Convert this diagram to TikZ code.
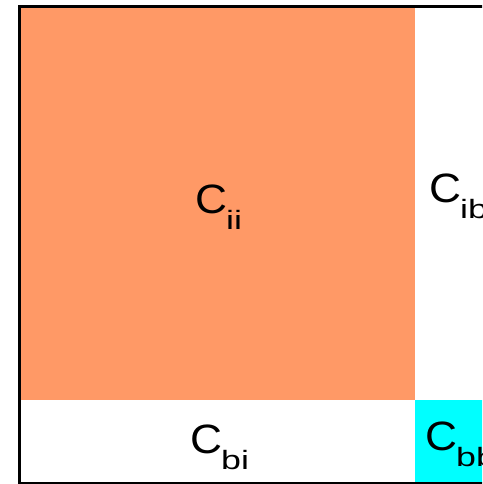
\documentclass[tikz,border=0pt]{standalone}
\usepackage{fontspec}
\setmainfont{Liberation Sans}
\usepackage{xcolor}
\usepackage{tikz}
\usetikzlibrary{positioning}

\definecolor{blockii}{RGB}{255,153,102}
\definecolor{blockbb}{RGB}{0,255,255}

\newcommand{\blk}[2]{\scalebox{1.08}[1]{C}\hspace{-1pt}\raisebox{-16pt}{\scalebox{1.35}[1]{\fontsize{26.5}{30}\selectfont #1#2}}}

\begin{document}
\begin{tikzpicture}[
  x=1pt, y=-1pt,
  lbl/.style={anchor=base west, inner sep=0pt, font=\fontsize{41}{48}\selectfont},
  frame/.style={draw=black, line width=3pt}
]
\useasboundingbox (0,0) rectangle (482,484);
\clip (0,0) rectangle (482,484);

\fill[blockii] (19,6.5) rectangle (414.5,399.5);
\fill[blockbb] (414.5,399.5) rectangle (540,483);
\draw[frame] (19,6.5) rectangle (560,483.5);

\node[lbl] (cii) at (195,213) {\blk ii};
\node[lbl] (cib) at (429,202) {\blk ib};
\node[lbl] (cbi) at (190,453) {\blk bi};
\node[lbl] (cbb) at (425,450.5) {\blk bb};
\end{tikzpicture}
\end{document}
